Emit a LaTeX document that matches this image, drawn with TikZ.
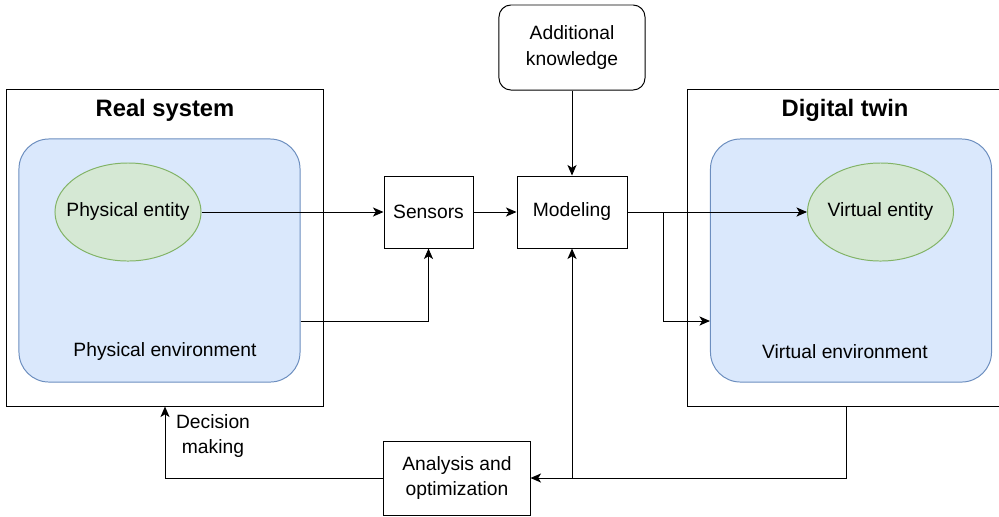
\documentclass[tikz,border=0pt]{standalone}
\usepackage{fontspec}
\setmainfont{Liberation Sans}
\usetikzlibrary{shapes,arrows.meta,calc}

\definecolor{envfill}{HTML}{DAE8FC}
\definecolor{envline}{HTML}{6C8EBF}
\definecolor{entfill}{HTML}{D5E8D4}
\definecolor{entline}{HTML}{82B366}

\begin{document}
\begin{tikzpicture}[x=0.025cm, y=-0.025cm, line width=0.7pt,
    >={Stealth[length=7.5pt,width=6.5pt,inset=2pt]},
    txt/.style={font=\fontsize{13.7}{17.8}\selectfont, align=center},
    title/.style={font=\fontsize{16.9}{20}\selectfont\bfseries},
    frame/.style={draw, minimum width=7.9cm, minimum height=7.9cm},
    envbox/.style={draw=envline, fill=envfill, rounded corners=0.75cm,
      minimum width=7.025cm, minimum height=6.075cm},
    entity/.style={ellipse, draw=entline, fill=entfill, inner sep=0pt,
      minimum width=3.65cm, minimum height=2.45cm},
    block/.style={txt, draw, minimum height=1.8cm}]
        \useasboundingbox (0,0) rectangle (999,516);

        % Real system
        \node[frame] (real) at (165,248) {};
        \node[title] (realt) at (165,110) {Real system};
        \node[envbox] (penv) at (159.5,260.5) {};
        \node[txt] (penvt) at (165,352) {Physical environment};
        \node[entity] (pent) at (128,212) {};
        \node[txt] (pentt) at (pent) {Physical entity};

        % Digital twin
        \node[frame] (twin) at (846,248) {};
        \node[title] (twint) at (845,110) {Digital twin};
        \node[envbox] (venv) at (851,260.5) {};
        \node[txt] (venvt) at (845,352) {Virtual environment};
        \node[entity] (vent) at (880.5,212) {};
        \node[txt] (ventt) at (vent) {Virtual entity};

        % Processing chain
        \node[block, minimum width=2.225cm] (sens) at (428.5,212) {Sensors};
        \node[block, minimum width=2.75cm] (model) at (572,212) {Modeling};
        \node[txt, draw, rounded corners=0.3cm, minimum width=3.65cm,
          minimum height=2.125cm] (know) at (572,47.5) {Additional\\knowledge};
        \node[block, minimum width=3.65cm, minimum height=1.85cm] (anal)
          at (457,478) {Analysis and\\optimization};
        \node[txt] (decide) at (213,436) {Decision\\making};

        % Connections
        \coordinate (envlink) at (0,321);
        \coordinate (split) at (663,212);
        \draw[->] (pent) -- (sens);
        \draw[->] (penv.east |- envlink) -| (sens.south);
        \draw[->] (sens) -- (model);
        \draw[->] (know) -- (model);
        \draw[->] (model) -- (vent);
        \draw[->] (split) |- (venv.west |- envlink);
        \draw[->] (twin.south) |- (anal.east);
        \draw[->] (model.south |- anal.east) -- (model.south);
        \draw[->] (anal.west) -| (real.south);
      \end{tikzpicture}
\end{document}
